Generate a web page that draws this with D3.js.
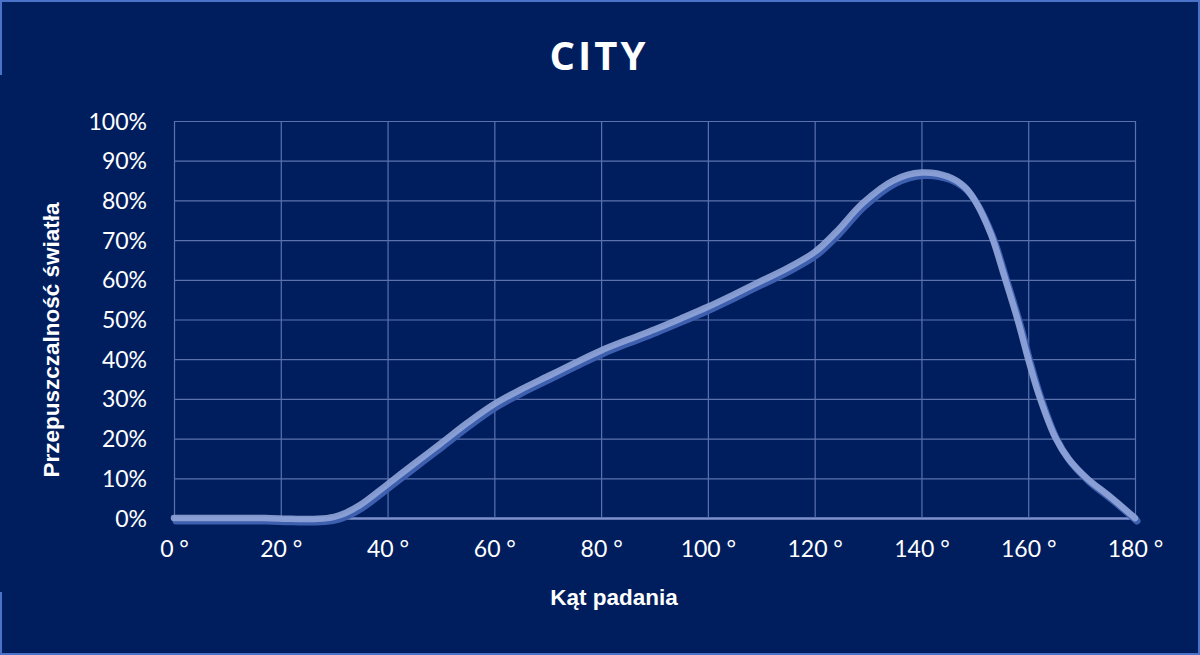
<!DOCTYPE html>
<html><head><meta charset="utf-8">
<script src="https://cdn.jsdelivr.net/npm/d3@7"></script>
<style>
html,body{margin:0;padding:0;background:#001e5e;}
svg{display:block;}
</style></head>
<body>
<svg id="chart" width="1200" height="655"></svg>
<script>
// Data
const angles = [0, 10, 17, 22, 27, 30, 32, 35, 40, 45, 50, 55, 60, 65, 70, 75, 80, 85, 90, 95, 100, 105, 110, 115, 120, 124, 129, 134.7, 140, 145, 148, 150, 153, 155.5, 158, 160, 162, 165, 167.5, 171, 175.3, 180];
const transmission = [0, 0, 0, -0.2, -0.2, 0.3, 1.2, 3.4, 8.5, 13.7, 18.8, 24, 28.7, 32.4, 35.7, 39, 42.2, 44.9, 47.5, 50.3, 53.2, 56.4, 59.7, 63, 67, 72, 79.3, 85, 87, 86, 83.5, 80, 71.5, 61, 50, 40, 31, 20.5, 15, 10, 5.4, 0];
const xTicks = [0, 20, 40, 60, 80, 100, 120, 140, 160, 180];
const yTicks = [0, 10, 20, 30, 40, 50, 60, 70, 80, 90, 100];
const chartTitle = "CITY";
const xTitle = "Kąt padania";
const yTitle = "Przepuszczalność światła";

const svg = d3.select("#chart");
const W = 1200, H = 655;
const pL = 174, pR = 1135, pT = 121, pB = 518;

// background + frame
svg.append("rect").attr("width", W).attr("height", H).attr("fill", "#001e5e");
const frame = "#4a72c8";
svg.append("rect").attr("x", 0).attr("y", 0).attr("width", W).attr("height", 2).attr("fill", frame);
svg.append("rect").attr("x", 0).attr("y", H - 2).attr("width", W).attr("height", 2).attr("fill", frame);
svg.append("rect").attr("x", W - 2).attr("y", 0).attr("width", 2).attr("height", H).attr("fill", frame);
svg.append("rect").attr("x", 0).attr("y", 0).attr("width", 2).attr("height", 75).attr("fill", frame);
svg.append("rect").attr("x", 0).attr("y", 592).attr("width", 2).attr("height", H - 592).attr("fill", frame);

const x = d3.scaleLinear().domain([0, 180]).range([pL, pR]);
const y = d3.scaleLinear().domain([0, 100]).range([pB, pT]);

// grid
const grid = svg.append("g");
grid.selectAll("line.h").data(yTicks).join("line")
  .attr("x1", pL).attr("x2", pR)
  .attr("y1", d => y(d) + 0.5).attr("y2", d => y(d) + 0.5)
  .attr("stroke", d => d === 0 ? "#7d92cc" : "#5b72ad")
  .attr("stroke-width", d => d === 0 ? 2.5 : 1.2);
grid.selectAll("line.v").data(xTicks).join("line")
  .attr("x1", d => x(d) + 0.5).attr("x2", d => x(d) + 0.5)
  .attr("y1", pT).attr("y2", pB)
  .attr("stroke", "#5b72ad").attr("stroke-width", 1.2);

// axes (labels only)
const tickFont = "Lato, 'Open Sans', sans-serif";
const yAxis = d3.axisLeft(y).tickValues(yTicks).tickFormat(d => d + "%").tickSize(0).tickPadding(27);
const gy = svg.append("g").attr("transform", `translate(${pL},0)`).call(yAxis);
gy.select(".domain").remove();
gy.selectAll("text").attr("fill", "#ffffff").attr("font-family", tickFont)
  .attr("font-size", 23).attr("dy", "0.35em");

const xAxis = d3.axisBottom(x).tickValues(xTicks).tickFormat(d => d + " °").tickSize(0).tickPadding(23);
const gx = svg.append("g").attr("transform", `translate(0,${pB})`).call(xAxis);
gx.select(".domain").remove();
gx.selectAll("text").attr("fill", "#ffffff").attr("font-family", tickFont)
  .attr("font-size", 23).attr("dy", "0.71em");

// line
const pts = angles.map((a, i) => [a, transmission[i]]);
const line = d3.line().x(d => x(d[0])).y(d => y(d[1])).curve(d3.curveCatmullRom.alpha(0.5));
svg.append("path").attr("d", line(pts)).attr("fill", "none")
  .attr("stroke", "#3d5fae").attr("stroke-width", 7).attr("stroke-linecap", "round")
  .attr("transform", "translate(2,3)");
svg.append("path").attr("d", line(pts)).attr("fill", "none")
  .attr("stroke", "#8ea4d8").attr("stroke-opacity", 0.92).attr("stroke-width", 6.5).attr("stroke-linecap", "round");

// titles
svg.append("text").attr("x", 599).attr("y", 70).attr("text-anchor", "middle")
  .attr("fill", "#ffffff").attr("font-family", "'Open Sans', 'DejaVu Sans', sans-serif")
  .attr("font-weight", "bold").attr("font-size", 40).attr("letter-spacing", 3).text(chartTitle);
svg.append("text").attr("x", 614).attr("y", 605).attr("text-anchor", "middle")
  .attr("fill", "#ffffff").attr("font-family", "'Liberation Sans', Arial, sans-serif")
  .attr("font-weight", "bold").attr("font-size", 22.5).text(xTitle);
svg.append("text").attr("transform", "translate(59,340) rotate(-90)").attr("text-anchor", "middle")
  .attr("fill", "#ffffff").attr("font-family", "'Liberation Sans', Arial, sans-serif")
  .attr("font-weight", "bold").attr("font-size", 22.5).text(yTitle);
</script>
</body></html>
